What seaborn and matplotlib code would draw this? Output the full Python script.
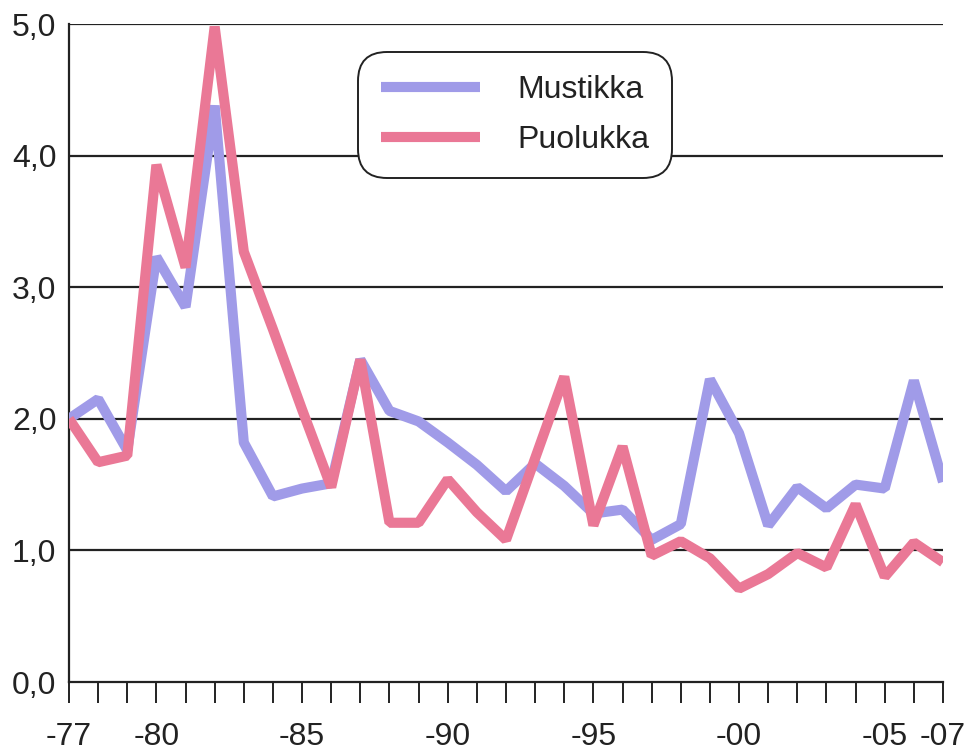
import numpy as np
import pandas as pd
import matplotlib
matplotlib.use("Agg")
import matplotlib.pyplot as plt
import seaborn as sns

# ---------------------------------------------------------
# DATA
# ---------------------------------------------------------

years = list(range(1977, 2008))

mustikka = [2.00, 2.15, 1.76, 3.23, 2.85, 4.38, 1.82, 1.41, 1.47, 1.51,
            2.45, 2.06, 1.98, 1.82, 1.65, 1.45, 1.66, 1.49, 1.28, 1.31,
            1.08, 1.20, 2.30, 1.89, 1.19, 1.48, 1.32, 1.50, 1.47, 2.29, 1.52]
puolukka = [2.00, 1.67, 1.72, 3.93, 3.15, 4.98, 3.27, 2.68, 2.07, 1.48,
            2.45, 1.21, 1.21, 1.54, 1.29, 1.08, 1.70, 2.32, 1.19, 1.79,
            0.96, 1.07, 0.94, 0.71, 0.82, 0.98, 0.87, 1.35, 0.80, 1.06, 0.91]

series_names = ["Mustikka", "Puolukka"]
series_colors = ["#a09be8", "#ea7896"]

x_label_years = [1977, 1980, 1985, 1990, 1995, 2000, 2005, 2007]
x_label_texts = ["-77", "-80", "-85", "-90", "-95", "-00", "-05", "-07"]
y_ticks = [0, 1, 2, 3, 4, 5]
y_tick_texts = ["0,0", "1,0", "2,0", "3,0", "4,0", "5,0"]

df = pd.DataFrame({
    "year": years * 2,
    "value": mustikka + puolukka,
    "series": [series_names[0]] * len(years) + [series_names[1]] * len(years),
})

# ---------------------------------------------------------
# STYLE
# ---------------------------------------------------------

sns.set_style("white")
plt.rcParams["font.family"] = ["Liberation Sans Narrow", "Liberation Sans", "DejaVu Sans"]

fig = plt.figure(figsize=(9.67, 7.52), dpi=100)
ax = fig.add_axes([69 / 967, 1 - 682 / 752, (943 - 69) / 967, (682 - 24) / 752])

# ---------------------------------------------------------
# PLOT
# ---------------------------------------------------------

sns.lineplot(data=df, x="year", y="value", hue="series",
             hue_order=series_names, palette=series_colors,
             linewidth=7.3, ax=ax, solid_joinstyle="bevel",
             solid_capstyle="butt", zorder=3)

ax.set_xlim(1977, 2007)
ax.set_ylim(0, 5)

# grid lines at each whole value
for v in y_ticks[1:]:
    ax.axhline(v, color="#222222", linewidth=1.6, zorder=1)

ax.set_yticks(y_ticks)
ax.set_yticklabels(y_tick_texts)
ax.set_xticks(years)
ax.set_xticklabels([x_label_texts[x_label_years.index(y)] if y in x_label_years else ""
                    for y in years])

ax.tick_params(axis="y", length=0, pad=9, labelsize=23, labelcolor="#222222")
ax.tick_params(axis="x", length=15, width=1.4, color="#222222", pad=14,
               labelsize=23, labelcolor="#222222", bottom=True)

for side in ["top", "right"]:
    ax.spines[side].set_visible(False)
for side in ["left", "bottom"]:
    ax.spines[side].set_color("#222222")
    ax.spines[side].set_linewidth(1.6)

ax.set_xlabel("")
ax.set_ylabel("")

leg = ax.legend(loc="upper left", bbox_to_anchor=(0.331, 0.957),
                frameon=True, fancybox=True, fontsize=23,
                handlelength=3.1, handletextpad=1.15, labelspacing=0.62,
                borderpad=0.72, borderaxespad=0, framealpha=1)
leg.get_frame().set_edgecolor("#222222")
leg.get_frame().set_linewidth(1.4)
leg.get_frame().set_boxstyle("round,pad=0,rounding_size=0.9")
leg.set_zorder(5)
for t in leg.get_texts():
    t.set_color("#222222")

fig.savefig("out.png", dpi=100)
